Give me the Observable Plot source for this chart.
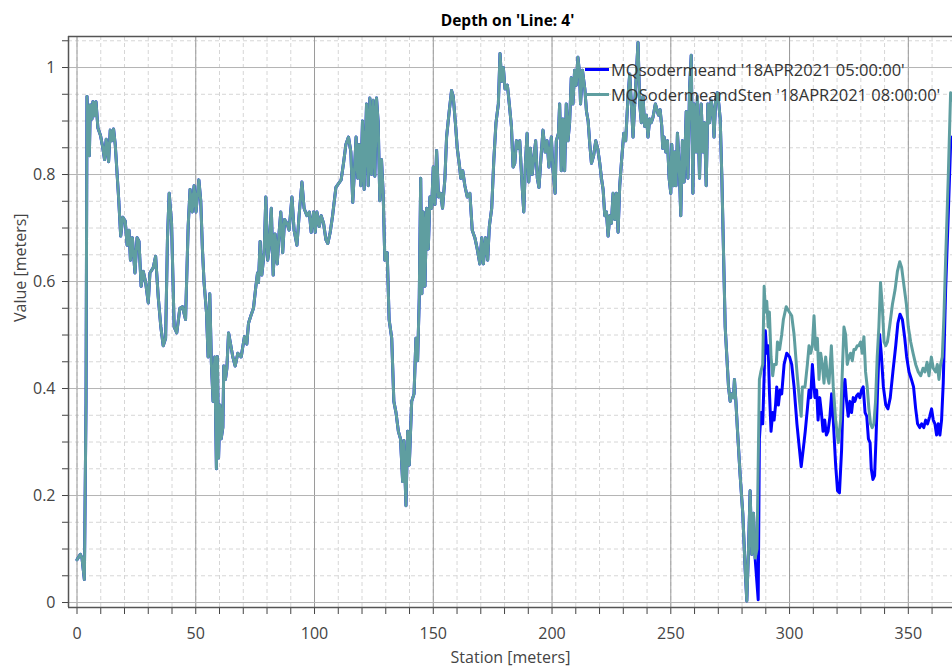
<!DOCTYPE html>
<html>
<head>
<meta charset="utf-8">
<script src="https://cdn.jsdelivr.net/npm/d3@7"></script>
<script src="https://cdn.jsdelivr.net/npm/@observablehq/plot@0.6"></script>
<style>
  html, body { margin: 0; padding: 0; background: #fff; }
  #chart { position: relative; width: 952px; height: 668px; overflow: hidden; font-family: "Open Sans", "Noto Sans", sans-serif; }
  .legend { position: absolute; left: 585px; top: 57px; font-size: 16.5px; color: #333; line-height: 25px; white-space: nowrap; }
  .legend .item { display: flex; align-items: center; }
  .legend .swatch { display: inline-block; width: 24px; height: 3px; margin-right: 2px; }
</style>
</head>
<body>
<div id="chart"></div>
<script>
// Water depth along Line 4 (station in metres, depth in metres).
// Both runs coincide up to ~286 m; after that they separate.
const commonReach = [
  [0,0.08],[1.4,0.09],[2.1,0.083],[3.1,0.043],[3.8,0.376],[4.2,0.946],[5.2,0.835],[5.6,0.93],[6.3,0.904],[6.7,0.936],
  [7.4,0.91],[8.0,0.936],[8.8,0.887],[9.9,0.873],[10.8,0.852],[11.6,0.828],[12.3,0.866],[13.3,0.824],[14.0,0.883],[14.7,0.863],
  [15.4,0.885],[16.1,0.856],[17.5,0.758],[18.4,0.685],[19.3,0.72],[20.3,0.713],[21.1,0.668],[21.9,0.696],[22.5,0.64],[23.3,0.682],
  [24.4,0.616],[25.3,0.682],[26.1,0.675],[27.0,0.591],[27.9,0.619],[28.9,0.598],[30.0,0.56],[30.7,0.616],[32.1,0.626],[33.1,0.647],
  [34.2,0.571],[35.3,0.515],[36.3,0.48],[37.3,0.494],[38.1,0.682],[38.8,0.765],[39.8,0.71],[40.9,0.515],[42.0,0.504],[43.3,0.55],
  [44.4,0.553],[45.7,0.529],[46.8,0.703],[47.6,0.772],[48.5,0.73],[49.3,0.779],[50.1,0.73],[51.3,0.79],[52.1,0.751],[52.8,0.661],
  [53.5,0.598],[54.5,0.543],[55.2,0.459],[55.9,0.577],[56.6,0.445],[57.3,0.376],[58.0,0.459],[58.7,0.25],
  [59.1,0.46],[59.6,0.27],[60.2,0.369],[60.7,0.306],[61.4,0.327],[61.8,0.442],[62.5,0.417],[63.1,0.438],[63.8,0.504],[64.5,0.487],
  [65.6,0.459],[66.6,0.442],[67.7,0.466],[69.1,0.459],[70.5,0.497],[71.5,0.483],[72.2,0.522],[73.2,0.536],[74.3,0.55],[75.3,0.591],
  [76.0,0.616],[76.4,0.598],[77.1,0.675],[77.8,0.612],[78.8,0.654],[79.5,0.758],[80.3,0.64],[80.9,0.661],[81.8,0.737],[82.6,0.612],
  [83.4,0.689],[84.3,0.633],[85.1,0.692],[85.8,0.73],[86.6,0.654],[87.4,0.716],[88.4,0.709],[89.3,0.696],[90.5,0.758],[91.4,0.696],
  [92.6,0.668],[93.5,0.723],[94.7,0.786],[95.6,0.737],[96.8,0.723],[97.8,0.73],[98.6,0.692],[99.6,0.73],[100.3,0.692],[101,0.73],
  [102,0.703],[102.8,0.723],[103.8,0.709],[104.8,0.678],[105.6,0.671],[106.6,0.692],[107.6,0.723],[109,0.776],[110.1,0.783],[111.2,0.79],
  [112.2,0.821],[113.2,0.856],[114.3,0.87],[115.3,0.842],[116.1,0.748],[116.8,0.807],[117.5,0.87],[118.2,0.793],[118.8,0.856],[119.5,0.779],
  [120.2,0.9],[120.9,0.772],[121.9,0.932],[122.6,0.779],[123.3,0.943],[124,0.8],[124.7,0.939],[125.4,0.797],[126.1,0.943],[126.8,0.897],
  [127.5,0.751],[128.2,0.828],[128.9,0.765],[129.6,0.64],[130.6,0.654],[131.4,0.529],[132.5,0.494],[133.4,0.376],[134.3,0.355],[135.3,0.32],
  [136.2,0.306],[137.1,0.226],[137.6,0.303],[138.5,0.181],[139.2,0.32],[139.9,0.257],[140.9,0.376],[141.9,0.39],[142.7,0.494],[143.4,0.452],
  [144.1,0.57],[144.7,0.793],[145.2,0.577],[145.8,0.73],[146.5,0.591],[147.2,0.737],[147.9,0.661],[148.6,0.758],[149.3,0.737],[150,0.814],
  [150.7,0.744],[151.4,0.845],[152.2,0.758],[153.1,0.765],[153.9,0.737],[154.9,0.793],[155.6,0.87],[156.7,0.918],[157.7,0.957],[158.4,0.946],
  [159.3,0.897],[160.1,0.849],[160.9,0.821],[161.6,0.793],[162.4,0.807],[163.3,0.779],[164.3,0.758],[165.4,0.765],[166.4,0.696],[167.5,0.682],
  [168.5,0.661],[169.6,0.633],[170.4,0.682],[171.1,0.633],[172,0.682],[172.9,0.64],[173.6,0.703],[174.6,0.737],[175.5,0.828],[176.4,0.897],
  [177.4,0.932],[178.1,1.026],[178.8,0.974],[179.5,1.0],[180.2,0.96],[181.2,0.967],[182,0.932],[182.9,0.89],[183.6,0.814],[184.3,0.821],
  [185,0.863],[185.7,0.849],[186.4,0.863],[187.4,0.779],[188.1,0.73],[188.8,0.821],[189.5,0.877],[190.2,0.786],[190.9,0.849],[191.6,0.8],
  [192.3,0.828],[193.1,0.863],[193.8,0.793],[194.5,0.776],[195.5,0.842],[196.2,0.883],[197.1,0.842],[197.9,0.863],[198.7,0.814],[199.7,0.87],
  [200.4,0.81],[201.3,0.765],[201.8,0.863],[202.7,0.877],[203.2,0.932],[203.9,0.807],[204.6,0.904],[205.3,0.807],[206,0.932],[206.7,0.863],
  [207.4,0.897],[208.1,0.981],[208.8,0.932],[209.5,0.995],[210.2,0.967],[210.9,1.019],[211.6,0.988],[212,0.932],[212.8,0.995],[213.8,0.96],
  [214.5,0.918],[215.2,0.9],[215.9,0.856],[216.6,0.821],[217.5,0.835],[218.4,0.863],[219.2,0.849],[220.1,0.821],[220.8,0.793],[221.5,0.772],
  [222.2,0.723],[222.9,0.73],[223.6,0.685],[224.3,0.723],[225,0.709],[225.7,0.765],[226.4,0.716],[227.1,0.765],[227.8,0.692],[228.5,0.779],
  [229.3,0.828],[230.2,0.877],[231,0.863],[232,0.946],[232.7,0.988],[233.4,0.932],[234.1,0.87],[234.8,0.932],[235.5,0.988],[236.2,1.047],
  [236.9,0.932],[237.6,0.897],[238.3,0.946],[239,0.89],[239.7,0.911],[240.4,0.87],[241.1,0.904],[241.8,0.897],[242.5,0.907],[243.5,0.932],
  [244.8,0.911],[245.5,0.921],[246.2,0.89],[246.6,0.849],[247.2,0.87],[247.9,0.842],[248.6,0.863],[249.3,0.793],[250,0.765],[250.4,0.856],
  [251.1,0.779],[251.7,0.842],[252.2,0.779],[252.8,0.877],[253.5,0.821],[254.2,0.723],[254.9,0.863],[255.6,0.786],[256.5,0.918],[257.2,0.793],
  [257.9,0.96],[258.6,1.023],[259.3,0.765],[259.8,0.932],[260.7,0.842],[261.2,0.946],[262.1,0.793],[262.8,0.932],[263.5,0.842],[264.2,0.897],
  [264.9,0.779],[265.6,0.932],[266.3,0.897],[267,0.939],[267.7,0.918],[268.2,0.87],[268.9,0.939],[269.6,0.953],[270.2,0.932],[270.8,0.904],
  [271.5,0.793],[272.2,0.654],[272.9,0.515],[273.6,0.459],[274.3,0.403],[275,0.376],[275.7,0.39],[276.4,0.383],[276.8,0.417],[277.4,0.376],
  [278.1,0.32],[279.2,0.237],[280.3,0.167],[281.3,0.063],[282,0.003],[282.7,0.097],[283.4,0.209],[284.1,0.09],[284.8,0.167],[285.5,0.083]
];

// Run at 05:00 downstream of the split
const tail0500 = [
  [286.8,0.005],[287.3,0.306],[288,0.355],[288.7,0.334],[289.3,0.424],[289.8,0.508],[290.4,0.466],[291,0.48],[291.5,0.397],[292.2,0.32],
  [292.9,0.355],[293.5,0.341],[294.1,0.369],[294.6,0.403],[295.3,0.369],[296,0.397],[296.7,0.39],[297.7,0.445],[298.8,0.466],[300,0.459],
  [300.9,0.445],[301.9,0.403],[303.1,0.334],[304.2,0.285],[304.9,0.254],[305.9,0.292],[306.6,0.32],[307.5,0.362],[308.2,0.397],[308.9,0.383],
  [309.6,0.445],[310.3,0.403],[310.7,0.383],[311.4,0.397],[312,0.341],[312.7,0.383],[313.4,0.355],[314.1,0.32],[314.8,0.341],[315.5,0.313],
  [316.2,0.32],[317,0.348],[317.7,0.39],[318.4,0.341],[319.4,0.257],[320.2,0.209],[321,0.205],[321.9,0.285],[322.6,0.39],[323.3,0.417],
  [324,0.376],[324.7,0.348],[325.4,0.376],[326.1,0.355],[326.8,0.383],[327.5,0.376],[328.2,0.386],[328.9,0.39],[329.6,0.383],[330.3,0.397],
  [331,0.403],[331.8,0.355],[332.5,0.348],[333.2,0.306],[333.9,0.299],[334.4,0.25],[335.1,0.23],[335.8,0.237],[336.4,0.306],[337.1,0.403],
  [337.9,0.501],[338.6,0.466],[339.5,0.403],[340.5,0.369],[341.4,0.362],[342.4,0.383],[343.5,0.431],[344.7,0.48],[345.6,0.522],[346.5,0.539],
  [347.5,0.529],[348.5,0.494],[349.3,0.459],[350.3,0.431],[351.3,0.417],[352.2,0.403],[353.1,0.362],[353.9,0.334],[354.8,0.327],[355.6,0.334],
  [356.5,0.327],[357.3,0.341],[358.1,0.334],[359,0.348],[359.8,0.362],[360.5,0.341],[361.2,0.334],[361.9,0.313],[362.6,0.334],[363.3,0.313],
  [364,0.341],[364.7,0.41],[365.7,0.584],[366.8,0.723],[367.8,0.856],[368.5,0.87]
];

// Run at 08:00 downstream of the split
const tail0800 = [
  [286.3,0.1],[287.3,0.417],[287.9,0.431],[288.7,0.445],[289.3,0.591],[289.8,0.543],[290.4,0.563],[291,0.515],[291.5,0.543],[292.2,0.459],
  [292.9,0.424],[293.5,0.445],[294.4,0.445],[294.9,0.487],[295.8,0.473],[296.7,0.501],[297.4,0.529],[298.6,0.553],[299.5,0.546],[300.9,0.536],
  [301.9,0.501],[303.1,0.431],[304.2,0.376],[304.9,0.348],[305.4,0.403],[306.5,0.403],[307.5,0.445],[308.2,0.48],[308.9,0.466],[309.6,0.48],
  [310.3,0.536],[311,0.473],[311.7,0.494],[312.4,0.417],[313.1,0.466],[313.8,0.445],[314.5,0.41],[315.2,0.459],[315.9,0.424],[316.6,0.41],
  [317.6,0.48],[318.4,0.403],[319.4,0.341],[320.5,0.299],[321.5,0.341],[322.2,0.431],[322.9,0.515],[323.6,0.501],[324.3,0.445],[325,0.459],
  [325.7,0.466],[326.4,0.452],[327.1,0.473],[327.8,0.473],[328.5,0.48],[329.2,0.48],[329.9,0.487],[330.6,0.466],[331.3,0.497],[332,0.431],
  [332.7,0.403],[333.4,0.362],[334.1,0.334],[334.8,0.327],[335.5,0.334],[336.2,0.376],[336.9,0.459],[337.6,0.515],[338.3,0.598],[339,0.557],
  [339.8,0.487],[340.5,0.48],[341.2,0.487],[342.1,0.515],[343.3,0.557],[344.4,0.584],[345.4,0.619],[346.4,0.637],[347.2,0.626],[348.2,0.591],
  [349.2,0.557],[350,0.515],[351,0.487],[352,0.466],[353.1,0.445],[354.2,0.431],[355.2,0.424],[356.2,0.438],[357,0.431],[357.9,0.449],
  [358.7,0.424],[359.7,0.459],[360.5,0.438],[361.5,0.431],[362.2,0.445],[362.9,0.417],[363.6,0.445],[364.3,0.459],[365,0.536],[365.7,0.64],
  [366.8,0.793],[367.8,0.953],[368.5,0.939]
];

const seriesNames = ["MQsodermeand '18APR2021 05:00:00'", "MQSodermeandSten '18APR2021 08:00:00'"];
const seriesColors = ["#0000ff", "#5f9ea0"];

const xMajorTicks = [0, 50, 100, 150, 200, 250, 300, 350];
const xMinorTicks = [0,10,20,30,40,50,60,70,80,90,100,110,120,130,140,150,160,170,180,190,200,210,220,230,240,250,260,270,280,290,300,310,320,330,340,350,360];
const yMajorTicks = [0, 0.2, 0.4, 0.6, 0.8, 1];
const yMinorTicks = [0,0.05,0.1,0.15,0.2,0.25,0.3,0.35,0.4,0.45,0.5,0.55,0.6,0.65,0.7,0.75,0.8,0.85,0.9,0.95,1,1.05];

const titleText = "Depth on 'Line: 4'";
const xLabel = "Station [meters]";
const yLabel = "Value [meters]";

const xDomain = [-3.58, 368.6];
const yDomain = [-0.0093, 1.058];

const toRows = (pairs) => pairs.map(([station, depth]) => ({station, depth}));
const run0500 = toRows(commonReach.concat(tail0500));
const run0800 = toRows(commonReach.concat(tail0800));

const fmtY = (d) => (Math.round(d * 100) % 20 === 0 ? String(+d.toFixed(2)) : "");
const fmtX = (d) => (d % 50 === 0 ? String(d) : "");

const chart = Plot.plot({
  width: 952,
  height: 668,
  marginTop: 36,
  marginLeft: 68,
  marginRight: 0,
  marginBottom: 61,
  style: {fontFamily: "'Open Sans', 'Noto Sans', sans-serif", fontSize: "16px", color: "#444", background: "#fff"},
  x: {
    domain: xDomain,
    ticks: xMinorTicks,
    tickFormat: fmtX,
    tickSize: 7,
    tickPadding: 13,
    label: null
  },
  y: {
    domain: yDomain,
    ticks: yMinorTicks,
    tickFormat: fmtY,
    tickSize: 6,
    tickPadding: 7,
    label: null
  },
  marks: [
    // minor grid
    Plot.ruleX(xMinorTicks, {stroke: "#d6d6d6", strokeDasharray: "4,3", strokeWidth: 1}),
    Plot.ruleY(yMinorTicks, {stroke: "#d6d6d6", strokeDasharray: "4,3", strokeWidth: 1}),
    // major grid
    Plot.ruleX(xMajorTicks, {stroke: "#9a9a9a", strokeWidth: 1}),
    Plot.ruleY(yMajorTicks, {stroke: "#b4b4b4", strokeWidth: 1}),
    // frame: top, left, bottom
    Plot.ruleY([yDomain[1]], {stroke: "#555", strokeWidth: 1.5}),
    Plot.ruleY([yDomain[0]], {stroke: "#555", strokeWidth: 1.5}),
    Plot.ruleX([xDomain[0]], {stroke: "#555", strokeWidth: 1.5}),
    // profiles
    Plot.line(run0500, {x: "station", y: "depth", stroke: seriesColors[0], strokeWidth: 3, clip: true}),
    Plot.line(run0800, {x: "station", y: "depth", stroke: seriesColors[1], strokeWidth: 3, clip: true}),
    // title and axis labels
    Plot.text([titleText], {frameAnchor: "top", dx: -3, dy: -22, fontWeight: "bold", fontSize: 15.5, fill: "#000"}),
    Plot.text([xLabel], {frameAnchor: "bottom", dy: 55, fontSize: 16, fill: "#444"}),
    Plot.text([yLabel], {frameAnchor: "left", dx: -48, rotate: -90, fontSize: 16, fill: "#444"})
  ]
});

const root = document.getElementById("chart");
root.appendChild(chart);

const legend = document.createElement("div");
legend.className = "legend";
seriesNames.forEach((name, i) => {
  const item = document.createElement("div");
  item.className = "item";
  const sw = document.createElement("span");
  sw.className = "swatch";
  sw.style.background = seriesColors[i];
  const label = document.createElement("span");
  label.textContent = name;
  item.appendChild(sw);
  item.appendChild(label);
  legend.appendChild(item);
});
root.appendChild(legend);
</script>
</body>
</html>
